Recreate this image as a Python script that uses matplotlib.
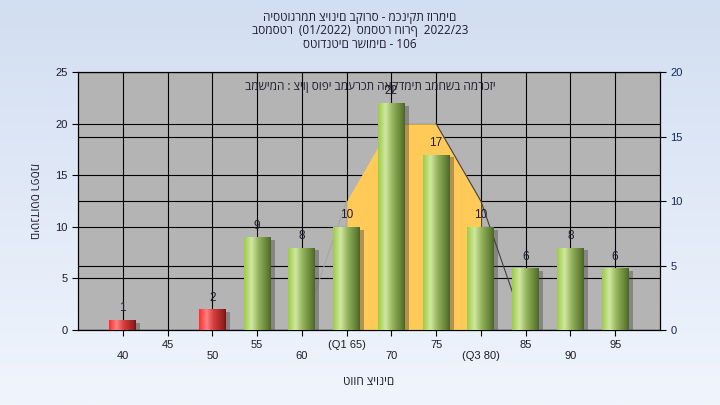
import numpy as np
import matplotlib
matplotlib.use('Agg')
import matplotlib.pyplot as plt
import matplotlib.patheffects as pe
from matplotlib.colors import LinearSegmentedColormap

plt.rcParams['font.family'] = ['Liberation Sans', 'DejaVu Sans']
heb = ['Open Sans', 'DejaVu Sans']

# data
grades = [40, 45, 50, 55, 60, 65, 70, 75, 80, 85, 90, 95]
tick_names = ['40', '45', '50', '55', '60', '(Q1 65)', '70', '75', '(Q3 80)', '85', '90', '95']
counts = [1, 0, 2, 9, 8, 10, 22, 17, 10, 6, 8, 6]
fail_limit = 55  # bars under this grade are red

# quartile band on the right axis
band_grades = [60, 65, 70, 75, 80, 85]
band_values = [0, 10, 16, 16, 10, 0]

title_lines = ['היסטוגרמת ציונים בקורס - מכניקת זורמים',
               'בסמסטר  (01/2022)  סמסטר חורף  2022/23',
               'סטודנטים רשומים - 106']
note = 'במשימה : ציון סופי במערכת האקדמית במחשב המרכזי'

text_col = '#1c1c2c'

fig = plt.figure(figsize=(7.2, 4.05), dpi=100)

# light blue gradient background
bg = fig.add_axes([0, 0, 1, 1], zorder=-10)
bg_cmap = LinearSegmentedColormap.from_list('bg', ['#d2def1', '#f0f5fd'])
bg.imshow(np.linspace(0, 1, 256).reshape(-1, 1), aspect='auto', cmap=bg_cmap, extent=(0, 1, 0, 1))
bg.axis('off')

x = np.arange(len(grades))

ax = fig.add_axes([0.1083, 0.185, 0.8083, 0.637])
ax.set_facecolor('#b4b4b4')
ax.set_xlim(-1, len(grades))
ax.set_ylim(0, 25)
ax.set_yticks([0, 5, 10, 15, 20, 25])
ax.set_xticks(x)
ax.set_xticklabels([n if i % 2 else '\n' + n for i, n in enumerate(tick_names)])
ax.grid(True, color='black', linewidth=0.8)
ax.tick_params(axis='both', length=4, width=0.8, colors='black', labelcolor=text_col, labelsize=8)
ax.tick_params(axis='x', pad=3)
for s in ax.spines.values():
    s.set_color('black')
    s.set_linewidth(0.8)
ax.set_xlabel('טווח ציונים', fontsize=8.5, family=heb, color=text_col)
ax.xaxis.set_label_coords(0.5, -0.175)
ax.set_ylabel('מספר סטודנטים', fontsize=8.5, family=heb, color=text_col, rotation=270, va='center')
ax.yaxis.set_label_coords(-0.077, 0.5)

# right axis with the yellow quartile band
ax2 = ax.twinx()
ax2.set_ylim(0, 20)
ax2.set_yticks([0, 5, 10, 15, 20])
ax2.set_axisbelow(True)
ax2.grid(True, axis='y', color='black', linewidth=0.8)
ax2.tick_params(axis='y', length=4, width=0.8, labelcolor='#14285a', labelsize=8)
for s in ax2.spines.values():
    s.set_color('black')
    s.set_linewidth(0.8)

bx = np.array([grades.index(g) for g in band_grades])
bv = np.array(band_values)
inner = (bx >= 5) & (bx <= 8)
ax2.fill_between(bx[inner], 0, bv[inner], color='#ffca58', linewidth=0, zorder=1)
ax2.plot(bx[:2], bv[:2], color='#a6a6a6', linewidth=0.8, zorder=2)
ax2.plot(bx[3:], bv[3:], color='#404040', linewidth=0.8, zorder=2)

# bars on a third layer so they sit above the band
ax3 = ax.twinx()
ax3.set_ylim(0, 25)
ax3.yaxis.set_visible(False)
for s in ax3.spines.values():
    s.set_visible(False)

green = LinearSegmentedColormap.from_list('green', [(0, '#9ccb45'), (0.28, '#d0e8a2'), (0.55, '#93b25a'),
                                                    (0.9, '#5c7b31'), (1, '#4b6524')])
red = LinearSegmentedColormap.from_list('red', [(0, '#ff2a2a'), (0.28, '#ff8080'), (0.55, '#d63c3c'),
                                                (0.9, '#962020'), (1, '#7a1010')])
strip = np.linspace(0, 1, 256).reshape(1, -1)

bars = ax3.bar(x, counts, width=0.6, color='white', linewidth=0, zorder=2)
for bar, g, c in zip(bars, grades, counts):
    if c == 0:
        bar.set_visible(False)
        continue
    bar.set_path_effects([pe.SimplePatchShadow(offset=(3, -2), shadow_rgbFace='#404040', alpha=0.4),
                          pe.Normal()])
    x0, w, h = bar.get_x(), bar.get_width(), bar.get_height()
    img = ax3.imshow(strip, cmap=red if g < fail_limit else green, aspect='auto',
                     extent=(x0, x0 + w, 0, h), zorder=3)
    img.set_clip_path(bar)
    ax3.annotate(str(c), (bar.get_x() + w / 2, h), xytext=(0, 4), textcoords='offset points',
                 ha='center', va='bottom', fontsize=8.5, color=text_col, zorder=4)

ax3.set_xlim(-1, len(grades))
ax3.set_ylim(0, 25)

ax3.text(0.502, 0.946, note, transform=ax3.transAxes, ha='center', va='center',
         fontsize=8.5, family=heb, color=text_col, zorder=5)

for i, line in enumerate(title_lines):
    fig.text(0.5, 1 - (17 + 13.5 * i) / 405, line, ha='center', va='center',
             fontsize=8.5, family=heb, color=text_col)

fig.savefig('out.png', dpi=100)
